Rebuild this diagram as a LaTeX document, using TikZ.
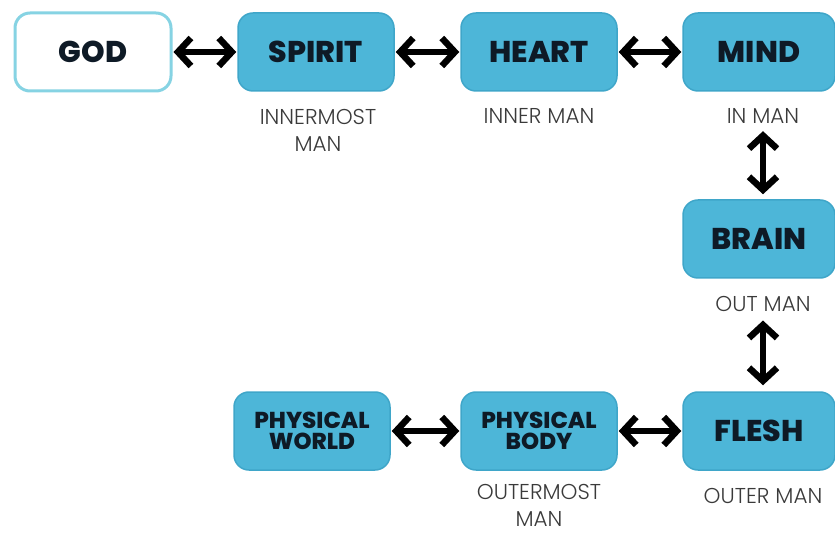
\documentclass[tikz,border=0pt]{standalone}
\usepackage{fontspec}
\setmainfont{Poppins}
\newfontfamily\capfont{Poppins Light}
\newfontfamily\heavyfont{Poppins ExtraBold}
\usetikzlibrary{arrows.meta}
\definecolor{boxblue}{HTML}{4DB6D8}
\definecolor{boxedge}{HTML}{3FA6C9}
\definecolor{godedge}{HTML}{86D3E3}
\definecolor{ink}{HTML}{0E1A26}
\definecolor{capgray}{HTML}{3A3A3A}
\tikzstyle{part}=[rectangle, rounded corners=15pt, draw=boxedge, line width=1.5pt,
    fill=boxblue, minimum width=156pt, minimum height=78pt, align=center,
    text=ink, font=\heavyfont\fontsize{30}{30}\selectfont]
\tikzstyle{twoline}=[font=\heavyfont\fontsize{23}{21}\selectfont]
\tikzstyle{manlabel}=[text=capgray, font=\capfont\fontsize{21.5}{27}\selectfont,
    align=center, inner sep=0pt, anchor=north]
\tikzstyle{link}=[{Straight Barb[length=13pt,width=28pt]}-{Straight Barb[length=13pt,width=28pt]},
    line width=6.5pt, black]

\begin{document}
\begin{tikzpicture}[x=1pt,y=1pt]
  \useasboundingbox (0,0) rectangle (835,-534);
  \node[part, fill=white, draw=godedge, line width=3pt] at (93,-52) (god) {GOD};
  \node[part] at (316,-52) (spirit) {SPIRIT};
  \node[part] at (539,-52) (heart) {HEART};
  \node[part, minimum width=152pt] at (759,-52) (mind) {MIND};
  \node[part, minimum width=152pt] at (759,-239) (brain) {BRAIN};
  \node[part, minimum width=152pt] at (759,-431) (flesh) {FLESH};
  \node[part, twoline] at (539,-431) (body) {PHYSICAL\\BODY};
  \node[part, twoline] at (312,-431) (world) {PHYSICAL\\WORLD};

  % captions under the boxes
  \path (spirit.south) +(2,-17) node[manlabel] (innermost) {INNERMOST\\MAN};
  \path (heart.south) +(0,-17) node[manlabel] (inner) {INNER MAN};
  \path (mind.south) +(4,-17) node[manlabel] (inman) {IN MAN};
  \path (brain.south) +(4,-17) node[manlabel] (outman) {OUT MAN};
  \path (body.south) +(0,-13) node[manlabel] (outermost) {OUTERMOST\\MAN};
  \path (flesh.south) +(4,-17) node[manlabel] (outer) {OUTER MAN};

  \draw[link, shorten <=1pt, shorten >=1pt] (god) -- (spirit);
  \draw[link, shorten <=1pt, shorten >=1pt] (spirit) -- (heart);
  \draw[link, shorten <=1pt, shorten >=1pt] (heart) -- (mind);
  \draw[link, shorten <=7pt, shorten >=5pt] (inman.south) -- (inman.south |- brain.north);
  \draw[link, shorten <=9pt, shorten >=6pt] (outman.south) -- (outman.south |- flesh.north);
  \draw[link, shorten <=1pt, shorten >=1pt] (flesh) -- (body);
  \draw[link, shorten <=1pt, shorten >=1pt] (body) -- (world);
\end{tikzpicture}
\end{document}
